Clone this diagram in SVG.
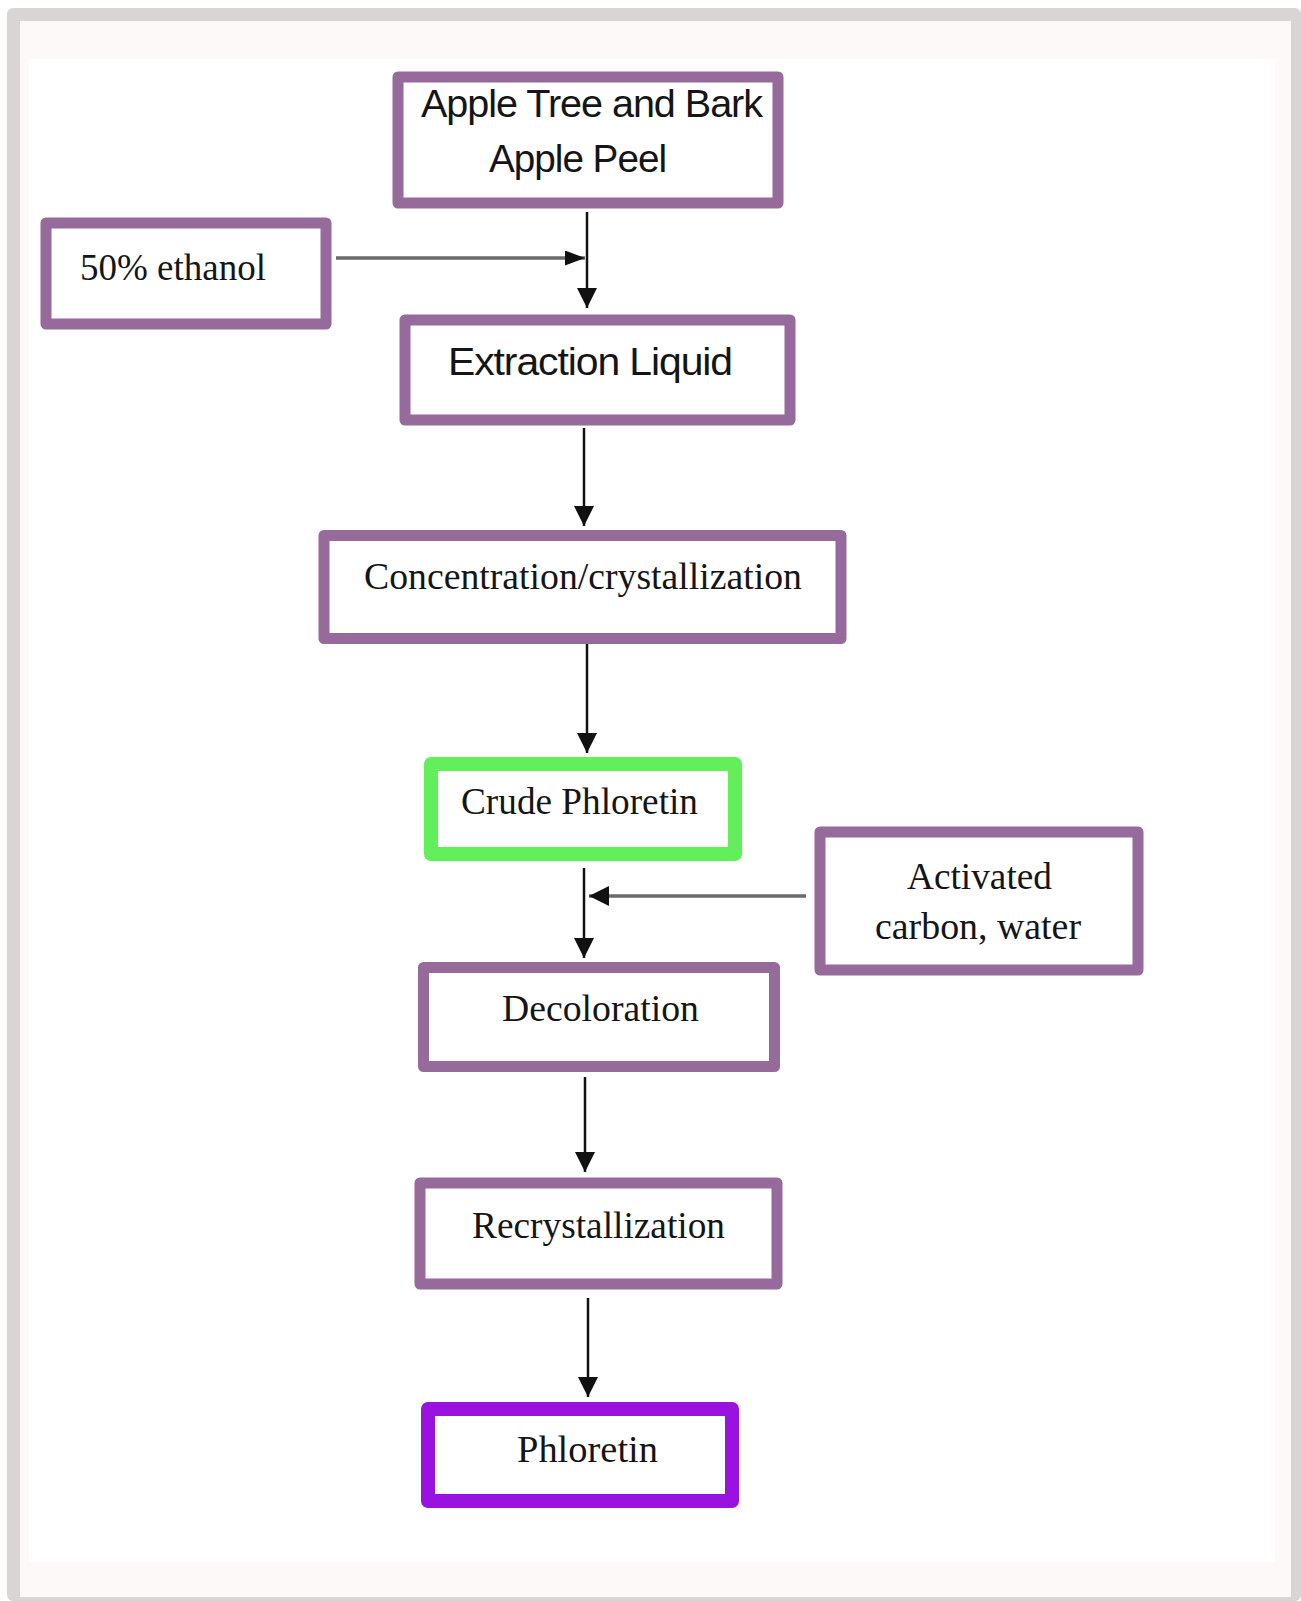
<svg xmlns="http://www.w3.org/2000/svg" width="1301" height="1601" viewBox="0 0 1301 1601">
  <style>
    .box { fill: #ffffff; stroke: #966a9a; stroke-width: 11; stroke-linejoin: round; }
    .green { fill: #ffffff; stroke: #62ef5b; stroke-width: 14; stroke-linejoin: round; }
    .violet { fill: #ffffff; stroke: #9a12e0; stroke-width: 14; stroke-linejoin: round; }
    .sans { font-family: "Liberation Sans", Arial, sans-serif; font-size: 38px; fill: #151515; letter-spacing: -1px; }
    .serif { font-family: "Liberation Serif", "Times New Roman", serif; font-size: 37px; fill: #151515; }
    .conn { stroke: #111111; stroke-width: 2.5; fill: none; }
    .side { stroke: #6a6a6a; stroke-width: 3.5; fill: none; }
  </style>
  <defs>
    <marker id="arrow" viewBox="0 0 10 10" refX="10" refY="5" markerUnits="userSpaceOnUse" markerWidth="20" markerHeight="20" orient="auto">
      <path d="M0,0 L10,5 L0,10 z" fill="#111111"/>
    </marker>
    <marker id="arrowSmall" viewBox="0 0 10 10" refX="10" refY="5" markerUnits="userSpaceOnUse" markerWidth="20" markerHeight="15" orient="auto" preserveAspectRatio="none">
      <path d="M0,0 L10,5 L0,10 z" fill="#111111"/>
    </marker>
  </defs>

  <!-- frame -->
  <rect x="7" y="8" width="1294" height="1593" rx="6" fill="#d9d5d4"/>
  <rect x="20" y="21" width="1271" height="1576" fill="#fcf9f8"/>
  <rect x="29" y="59" width="1246" height="1503" fill="#ffffff"/>

  <!-- connectors -->
  <g id="connectors">
    <line class="conn" x1="587" y1="212" x2="587" y2="308" marker-end="url(#arrow)"/>
    <line class="side" x1="336" y1="258" x2="585" y2="258" marker-end="url(#arrowSmall)"/>
    <line class="conn" x1="584" y1="428" x2="584" y2="526" marker-end="url(#arrow)"/>
    <line class="conn" x1="587" y1="644" x2="587" y2="753" marker-end="url(#arrow)"/>
    <line class="conn" x1="584" y1="868" x2="584" y2="958" marker-end="url(#arrow)"/>
    <line class="side" x1="806" y1="896" x2="589" y2="896" marker-end="url(#arrow)"/>
    <line class="conn" x1="585" y1="1077" x2="585" y2="1172" marker-end="url(#arrow)"/>
    <line class="conn" x1="588" y1="1298" x2="588" y2="1397" marker-end="url(#arrow)"/>
  </g>

  <g id="node-apple">
    <rect class="box" x="398" y="77" width="380" height="126" stroke-width="10"/>
    <text class="sans" x="421" y="117" textLength="341" lengthAdjust="spacingAndGlyphs">Apple Tree and Bark</text>
    <text class="sans" x="489" y="172" textLength="177" lengthAdjust="spacingAndGlyphs">Apple Peel</text>
  </g>

  <g id="node-ethanol">
    <rect class="box" x="46" y="223" width="280" height="101" stroke-width="10"/>
    <text class="serif" x="80" y="280" textLength="186" lengthAdjust="spacingAndGlyphs">50% ethanol</text>
  </g>

  <g id="node-extraction">
    <rect class="box" x="405" y="320" width="385" height="100" stroke-width="10"/>
    <text class="sans" x="448" y="375" textLength="284" lengthAdjust="spacingAndGlyphs">Extraction Liquid</text>
  </g>

  <g id="node-concentration">
    <rect class="box" x="324" y="535.5" width="517" height="103"/>
    <text class="serif" x="364" y="589" textLength="438" lengthAdjust="spacingAndGlyphs">Concentration/crystallization</text>
  </g>

  <g id="node-crude">
    <rect class="green" x="431" y="764" width="304" height="90"/>
    <text class="serif" x="461" y="814" textLength="237" lengthAdjust="spacingAndGlyphs">Crude Phloretin</text>
  </g>

  <g id="node-activated">
    <rect class="box" x="820" y="832" width="318" height="138"/>
    <text class="serif" x="907" y="889" textLength="145" lengthAdjust="spacingAndGlyphs">Activated</text>
    <text class="serif" x="875" y="939" textLength="206" lengthAdjust="spacingAndGlyphs">carbon, water</text>
  </g>

  <g id="node-decoloration">
    <rect class="box" x="423.5" y="967.5" width="351" height="99"/>
    <text class="serif" x="502" y="1021" textLength="197" lengthAdjust="spacingAndGlyphs">Decoloration</text>
  </g>

  <g id="node-recrystallization">
    <rect class="box" x="420" y="1183" width="357" height="101" stroke-width="12"/>
    <text class="serif" x="472" y="1238" textLength="253" lengthAdjust="spacingAndGlyphs">Recrystallization</text>
  </g>

  <g id="node-phloretin">
    <rect class="violet" x="428" y="1409" width="304" height="92"/>
    <text class="serif" x="517" y="1462" textLength="141" lengthAdjust="spacingAndGlyphs">Phloretin</text>
  </g>
</svg>
